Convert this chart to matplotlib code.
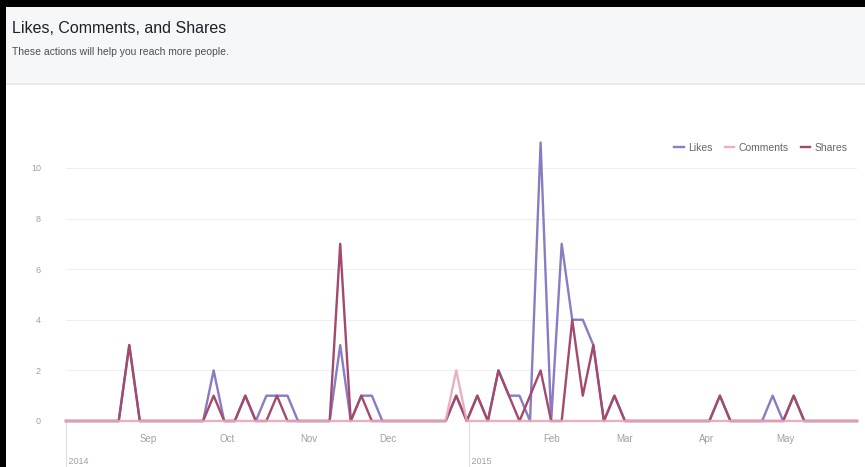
import matplotlib
matplotlib.use("Agg")
import matplotlib.pyplot as plt
import matplotlib.dates as mdates
from matplotlib.patches import Rectangle
import numpy as np

plt.rcParams["font.family"] = ["Liberation Sans", "DejaVu Sans"]

# data points every 4 days, starting 1 Aug 2014
start = np.datetime64("2014-08-01")
step_days = 4

likes = [0, 0, 0, 0, 0, 0, 3, 0, 0, 0,
         0, 0, 0, 0, 2, 0, 0, 1, 0, 1,
         1, 1, 0, 0, 0, 0, 3, 0, 1, 1,
         0, 0, 0, 0, 0, 0, 0, 1, 0, 1,
         0, 2, 1, 1, 0, 11, 0, 7, 4, 4,
         3, 0, 1, 0, 0, 0, 0, 0, 0, 0,
         0, 0, 1, 0, 0, 0, 0, 1, 0, 1,
         0, 0, 0, 0, 0, 0]
comments = [0, 0, 0, 0, 0, 0, 0, 0, 0, 0,
            0, 0, 0, 0, 0, 0, 0, 0, 0, 0,
            0, 0, 0, 0, 0, 0, 0, 0, 0, 0,
            0, 0, 0, 0, 0, 0, 0, 2, 0, 0,
            0, 0, 0, 0, 0, 0, 0, 0, 0, 0,
            0, 0, 0, 0, 0, 0, 0, 0, 0, 0,
            0, 0, 0, 0, 0, 0, 0, 0, 0, 0,
            0, 0, 0, 0, 0, 0]
shares = [0, 0, 0, 0, 0, 0, 3, 0, 0, 0,
          0, 0, 0, 0, 1, 0, 0, 1, 0, 0,
          1, 0, 0, 0, 0, 0, 7, 0, 1, 0,
          0, 0, 0, 0, 0, 0, 0, 1, 0, 1,
          0, 2, 1, 0, 1, 2, 0, 0, 4, 1,
          3, 0, 1, 0, 0, 0, 0, 0, 0, 0,
          0, 0, 1, 0, 0, 0, 0, 0, 0, 1,
          0, 0, 0, 0, 0, 0]

month_starts = ["2014-09-01", "2014-10-01", "2014-11-01", "2014-12-01",
                "2015-02-01", "2015-03-01", "2015-04-01", "2015-05-01"]
month_labels = ["Sep", "Oct", "Nov", "Dec", "Feb", "Mar", "Apr", "May"]
year_starts = ["2014-08-01", "2015-01-01"]
year_labels = ["2014", "2015"]

dates = (start + step_days * np.arange(len(likes))).astype("datetime64[D]").astype(object)

W, H = 865, 467
fig = plt.figure(figsize=(W / 100, H / 100), dpi=100)
fig.patch.set_facecolor("white")

# header band
fig.patches.append(Rectangle((0, 1 - 84 / H), 1, 84 / H, transform=fig.transFigure,
                             facecolor="#f6f7f9", edgecolor="none", zorder=0))
fig.patches.append(Rectangle((0, 1 - 85 / H), 1, 1.5 / H, transform=fig.transFigure,
                             facecolor="#e9eaed", edgecolor="none", zorder=0))
# black frame (left and top)
fig.patches.append(Rectangle((0, 0), 6 / W, 1, transform=fig.transFigure,
                             facecolor="black", edgecolor="none", zorder=5))
fig.patches.append(Rectangle((0, 1 - 7 / H), 1, 7 / H, transform=fig.transFigure,
                             facecolor="black", edgecolor="none", zorder=5))

fig.text(12 / W, 1 - 33 / H, "Likes, Comments, and Shares", fontsize=11.5,
         color="#1d2129", ha="left", va="baseline")
fig.text(12 / W, 1 - 55 / H, "These actions will help you reach more people.",
         fontsize=7.5, color="#4b4f56", ha="left", va="baseline")

ax = fig.add_axes([66 / W, (H - 421) / H, (857 - 66) / W, (421 - 135) / H])
ax.set_facecolor("none")

ax.plot(dates, likes, color="#8a7bc2", lw=1.7, label="Likes", zorder=3, clip_on=False)
ax.plot(dates, shares, color="#a24a6e", lw=1.7, label="Shares", zorder=4, clip_on=False)
ax.plot(dates, comments, color="#eaa6b8", lw=1.7, label="Comments", zorder=5,
        clip_on=False, alpha=0.9)

ax.set_xlim(dates[0], dates[-1])
ax.set_ylim(0, 11.3)

for s in ax.spines.values():
    s.set_visible(False)

ax.set_yticks([0, 2, 4, 6, 8, 10])
ax.yaxis.grid(True, color="#efefef", lw=0.8)
ax.set_axisbelow(True)
ax.tick_params(axis="y", length=0, pad=18, labelsize=6.5, labelcolor="#a0a0a0")

ax.set_xticks([np.datetime64(d).astype(object) for d in month_starts])
ax.set_xticklabels(month_labels)
ax.tick_params(axis="x", length=0, pad=9, labelsize=7, labelcolor="#a0a0a0")

# year markers below the month labels
trans = ax.get_xaxis_transform()
for d, lab in zip(year_starts, year_labels):
    x = mdates.date2num(np.datetime64(d).astype(object))
    ax.plot([x, x], [0, -0.165], transform=trans, color="#dddddd", lw=0.8, clip_on=False)
    ax.text(x, -0.143, " " + lab, transform=trans, fontsize=6.5, color="#a0a0a0",
            ha="left", va="center")

handles, labels = ax.get_legend_handles_labels()
order = [labels.index(n) for n in ["Likes", "Comments", "Shares"]]
leg = ax.legend([handles[i] for i in order], [labels[i] for i in order],
                loc="center right", bbox_to_anchor=(1.0, 0.955), ncol=3, frameon=False,
                handlelength=0.9, handletextpad=0.4, columnspacing=1.2, fontsize=7.5)
for t in leg.get_texts():
    t.set_color("#666666")

fig.savefig("out.png", dpi=100)
